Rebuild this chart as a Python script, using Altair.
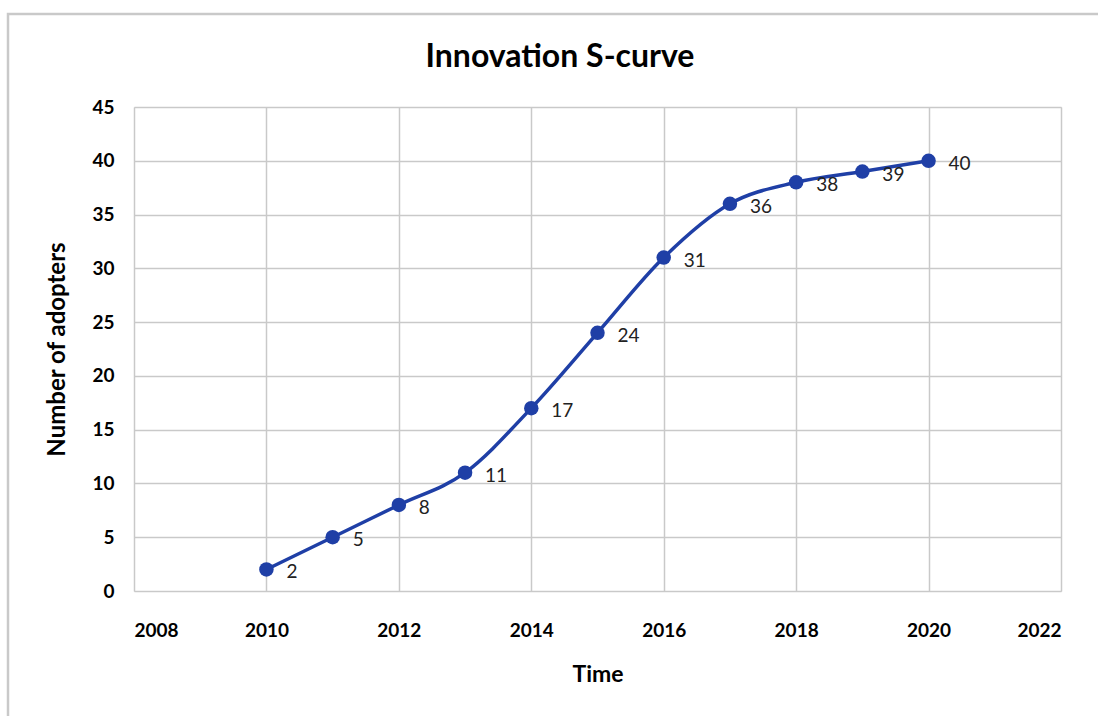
import altair as alt
import pandas as pd

years = [2010, 2011, 2012, 2013, 2014, 2015, 2016, 2017, 2018, 2019, 2020]
adopters = [2, 5, 8, 11, 17, 24, 31, 36, 38, 39, 40]
x_ticks = [2008, 2010, 2012, 2014, 2016, 2018, 2020, 2022]
y_ticks = [0, 5, 10, 15, 20, 25, 30, 35, 40, 45]
chart_title = "Innovation S-curve"

df = pd.DataFrame({"Time": years, "Adopters": adopters})

FONT = "Lato"
BLUE = "#1f3fa6"
GRID = "#c9c9c9"

x = alt.X("Time:Q",
          scale=alt.Scale(domain=[2008, 2022], nice=False, zero=False),
          axis=alt.Axis(values=x_ticks, format="d", title="Time",
                        labelFont=FONT, labelFontSize=19, labelFontWeight="bold",
                        labelColor="black", labelPadding=30, tickSize=0,
                        domain=False, grid=True, gridColor=GRID, gridWidth=1.5,
                        titleFont=FONT, titleFontSize=23, titleFontWeight="bold",
                        titleColor="black", titlePadding=23))
y = alt.Y("Adopters:Q",
          scale=alt.Scale(domain=[0, 45], nice=False),
          axis=alt.Axis(values=y_ticks, title="Number of adopters",
                        labelFont=FONT, labelFontSize=19, labelFontWeight="bold",
                        labelColor="black", labelPadding=20, tickSize=0,
                        domain=False, grid=True, gridColor=GRID, gridWidth=1.5,
                        titleFont=FONT, titleFontSize=24, titleFontWeight="bold",
                        titleColor="black", titlePadding=22))

base = alt.Chart(df)

line = base.mark_line(color=BLUE, strokeWidth=3.5, interpolate="monotone").encode(x=x, y=y)
pts = base.mark_point(filled=True, color=BLUE, size=210, opacity=1).encode(x=x, y=y)
labels = base.mark_text(align="left", baseline="middle", dx=20, dy=3,
                        font=FONT, fontSize=19, color="#222222").encode(
    x=x, y=y, text=alt.Text("Adopters:Q"))

one = alt.Chart(pd.DataFrame({"t": [chart_title]}))
border = one.mark_rect(fill=None, stroke=GRID, strokeWidth=2.5).encode(
    x=alt.value(-126), x2=alt.value(1000), y=alt.value(-93), y2=alt.value(640))
title = one.mark_text(font=FONT, fontSize=32, fontWeight="bold", color="black",
                      align="center", baseline="middle").encode(
    x=alt.value(426), y=alt.value(-50), text="t:N")

chart = alt.layer(border, line, pts, labels, title).properties(
    width=927, height=484,
    autosize=alt.AutoSizeParams(type="none"),
    padding={"left": 134, "top": 107, "right": 37, "bottom": 125},
).configure_view(stroke=None).configure(background="white")

chart.save("out.html", embed_options={"renderer": "svg", "actions": False})
